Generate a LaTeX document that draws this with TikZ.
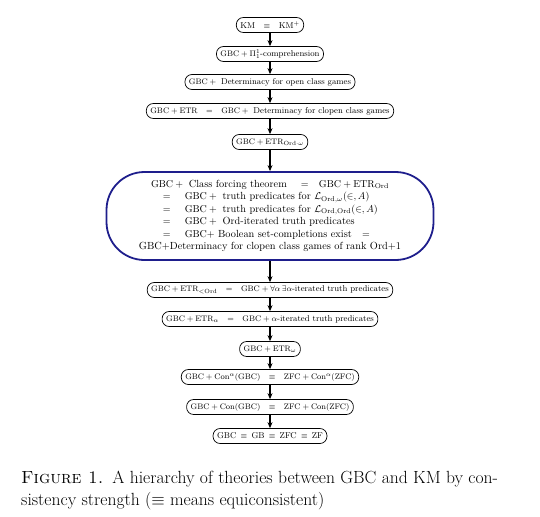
\documentclass[tikz,border=0pt]{standalone}
\usepackage{amsmath,amssymb}
\usetikzlibrary{arrows.meta}
\definecolor{boxblue}{RGB}{30,30,140}
\tikzset{
  thy/.style={draw, line width=0.7pt, rounded corners=7pt, minimum height=15pt,
    inner ysep=0pt, inner xsep=4pt, font=\fontsize{8.5}{10}\selectfont},
  bigthy/.style={draw=boxblue, line width=1.8pt, rounded corners=38pt,
    minimum width=327pt, minimum height=88pt, inner sep=0pt,
    font=\fontsize{10.33}{12.4}\selectfont},
  arr/.style={-{Stealth[length=6pt,width=5pt]}, line width=1.1pt},
  captext/.style={anchor=base west, inner sep=0pt, font=\fontsize{17.6}{21}\selectfont}
}
\newcommand{\rmx}[1]{\mathrm{#1}}
\newcommand{\eqrow}{\hspace*{24pt}$=$\hspace{14pt}}
\begin{document}
\begin{tikzpicture}[x=1pt,y=-1pt]
\useasboundingbox (0,0) rectangle (540,516);
\node[thy] (km) at (270,25) {KM\quad$\equiv$\quad KM$^+$};
\node[thy] (pi) at (270,54) {$\rmx{GBC}+\Pi^1_1$-comprehension};
\node[thy] (open) at (270,82) {$\rmx{GBC}+{}$ Determinacy for open class games};
\node[thy] (clopen) at (270,111) {$\rmx{GBC}+\rmx{ETR}$\quad$=$\quad$\rmx{GBC}+{}$ Determinacy for clopen class games};
\node[thy] (etrw) at (270,142) {$\rmx{GBC}+\rmx{ETR}_{\rmx{Ord}\cdot\omega}$};
\node[bigthy] (ctf) at (270,216) {\begin{tabular}{@{}l@{}}
\multicolumn{1}{@{}c@{}}{$\rmx{GBC}+{}$ Class forcing theorem\hspace{14pt}$=$\quad$\rmx{GBC}+\rmx{ETR}_{\rmx{Ord}}$}\\
\eqrow$\rmx{GBC}+{}$ truth predicates for $\mathcal{L}_{\rmx{Ord},\omega}(\in,A)$\\
\eqrow$\rmx{GBC}+{}$ truth predicates for $\mathcal{L}_{\rmx{Ord},\rmx{Ord}}(\in,A)$\\
\eqrow$\rmx{GBC}+{}$ Ord-iterated truth predicates\\
\eqrow$\rmx{GBC}+$ Boolean set-completions exist\quad$=$\\
\multicolumn{1}{@{}c@{}}{GBC+Determinacy for clopen class games of rank Ord+1}
\end{tabular}};
\node[thy] (ltord) at (270,290) {$\rmx{GBC}+\rmx{ETR}_{<\rmx{Ord}}$\quad$=$\quad$\rmx{GBC}+\forall\alpha\,\exists\alpha$-iterated truth predicates};
\node[thy] (alpha) at (270,319) {$\rmx{GBC}+\rmx{ETR}_{\alpha}$\quad$=$\quad$\rmx{GBC}+\alpha$-iterated truth predicates};
\node[thy] (omega) at (270,349) {$\rmx{GBC}+\rmx{ETR}_{\omega}$};
\node[thy] (conal) at (270,377) {$\rmx{GBC}+\rmx{Con}^{\alpha}(\rmx{GBC})$\quad$\equiv$\quad$\rmx{ZFC}+\rmx{Con}^{\alpha}(\rmx{ZFC})$};
\node[thy] (con) at (270,407) {$\rmx{GBC}+\rmx{Con}(\rmx{GBC})$\quad$\equiv$\quad$\rmx{ZFC}+\rmx{Con}(\rmx{ZFC})$};
\node[thy] (base) at (270,436) {GBC\enspace$\equiv$\enspace GB\enspace$\equiv$\enspace ZFC\enspace$\equiv$\enspace ZF};
\draw[arr] (km) -- (pi);
\draw[arr] (pi) -- (open);
\draw[arr] (open) -- (clopen);
\draw[arr] (clopen) -- (etrw);
\draw[arr] (etrw) -- (ctf);
\draw[arr] (ctf) -- (ltord);
\draw[arr] (ltord) -- (alpha);
\draw[arr] (alpha) -- (omega);
\draw[arr] (omega) -- (conal);
\draw[arr] (conal) -- (con);
\draw[arr] (con) -- (base);
\node[captext] (cap1) at (21,483) {\textsc{Figure 1.}\enspace A hierarchy of theories between GBC and KM by con-};
\node[captext] (cap2) at (21,505) {sistency strength ($\equiv$ means equiconsistent)};
\end{tikzpicture}
\end{document}
